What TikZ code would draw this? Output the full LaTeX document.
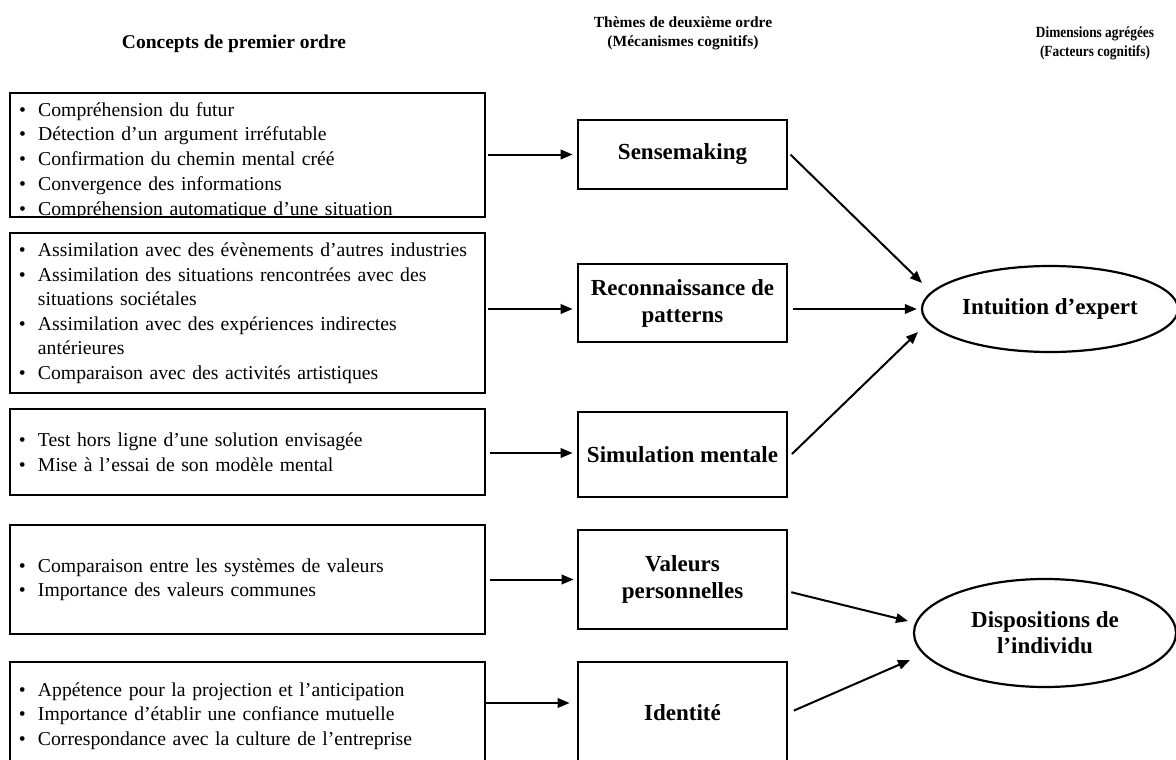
\documentclass[tikz,border=0pt]{standalone}
\usepackage{fontspec}
\setmainfont{Liberation Serif}
\usetikzlibrary{arrows.meta,shapes.geometric}

\newcommand{\puce}[1]{\makebox[19pt][l]{\textbullet}#1}
\newcommand{\suite}[1]{\hspace*{19pt}#1}

\tikzset{
  conceptbox/.style={draw, line width=1.1pt, minimum width=475pt, text width=457pt,
    inner xsep=9pt, align=left, font=\fontsize{19.7pt}{24.5pt}\selectfont},
  listtext/.style={inner sep=0pt, text width=457pt, align=left,
    font=\fontsize{19.7pt}{24.75pt}\selectfont},
  themebox/.style={draw, line width=2.7pt, minimum width=209pt, align=center,
    font=\bfseries\fontsize{23pt}{27pt}\selectfont},
  dimension/.style={ellipse, draw, line width=2.2pt, inner sep=0pt, align=center,
    font=\bfseries\fontsize{23pt}{26pt}\selectfont},
  heading/.style={align=center, font=\bfseries\fontsize{15.5pt}{19pt}\selectfont},
  arr/.style={line width=2pt, -{Triangle[length=12pt,width=9.5pt]}},
}

\begin{document}
\begin{tikzpicture}[x=1pt, y=-1pt]
		\useasboundingbox (0,0) rectangle (1176,760);
		\clip (0,0) rectangle (1176,760);
		
		%%%%% titres %%%%%
		\node[heading, font=\bfseries\fontsize{19.5pt}{23pt}\selectfont] (h1) at (234,44) {Concepts de premier ordre};
		\node[heading] (h2) at (683,33) {Thèmes de deuxième ordre\\(Mécanismes cognitifs)};
		\node[heading] (h3) at (1095,43) {\scalebox{0.86}[1]{\begin{tabular}{@{}c@{}}Dimensions agrégées\\(Facteurs cognitifs)\end{tabular}}};
		
		%%%%% concepts de premier ordre %%%%%
		\node[conceptbox, minimum height=124pt] (c1) at (247.5,155) {};
		\begin{scope}
			\clip (c1.north west) rectangle (c1.south east);
			\node[listtext, anchor=north west] (c1txt) at (19,102) {%
				\puce{Compréhension du futur}\\
				\puce{Détection d’un argument irréfutable}\\
				\puce{Confirmation du chemin mental créé}\\
				\puce{Convergence des informations}\\
				\puce{Compréhension automatique d’une situation}};
		\end{scope}
		
		\node[conceptbox, minimum height=160pt] (c2) at (247.5,313) {%
			\puce{Assimilation avec des évènements d’autres industries}\\
			\puce{Assimilation des situations rencontrées avec des}\\
			\suite{situations sociétales}\\
			\puce{Assimilation avec des expériences indirectes}\\
			\suite{antérieures}\\
			\puce{Comparaison avec des activités artistiques}};
		
		\node[conceptbox, minimum height=86pt] (c3) at (247.5,452) {%
			\puce{Test hors ligne d’une solution envisagée}\\
			\puce{Mise à l’essai de son modèle mental}};
		
		\node[conceptbox, minimum height=109pt] (c4) at (247.5,579.5) {%
			\puce{Comparaison entre les systèmes de valeurs}\\
			\puce{Importance des valeurs communes}};
		
		\node[conceptbox, minimum height=108pt] (c5) at (247.5,716) {%
			\puce{Appétence pour la projection et l’anticipation}\\
			\puce{Importance d’établir une confiance mutuelle}\\
			\puce{Correspondance avec la culture de l’entreprise}};
		
		%%%%% themes de deuxieme ordre %%%%%
		\node[themebox, minimum height=69pt] (sense) at (682.5,154.5) {Sensemaking};
		\node[themebox, minimum height=78pt] (reco) at (682.5,303) {Reconnaissance de\\patterns};
		\node[themebox, minimum height=85pt] (simu) at (682.5,454.5) {Simulation mentale};
		\node[themebox, minimum height=99pt] (val) at (682.5,579.5) {Valeurs\\personnelles};
		\node[themebox, minimum height=102pt] (ident) at (682.5,713) {Identité};
		
		%%%%% dimensions agregees %%%%%
		\node[dimension, minimum width=256pt, minimum height=86pt] (intu) at (1050,309) {Intuition d’expert};
		\node[dimension, minimum width=262pt, minimum height=108pt] (disp) at (1045,633) {Dispositions de\\l’individu};
		
		\coordinate (intuA) at (922,283);
		\coordinate (intuC) at (918,332);
		\coordinate (dispA) at (908,621);
		\coordinate (dispB) at (910,660);
		
		%%%%% fleches %%%%%
		\draw[arr, shorten <=2pt, shorten >=4pt] (sense.west -| c1.east) -- (sense.west);
		\draw[arr, shorten <=2pt, shorten >=4pt] ([yshift=-6pt]reco.west -| c2.east) -- ([yshift=-6pt]reco.west);
		\draw[arr, shorten <=4pt, shorten >=4pt] ([yshift=1.5pt]simu.west -| c3.east) -- ([yshift=1.5pt]simu.west);
		\draw[arr, shorten <=4pt, shorten >=3pt] (val.west -| c4.east) -- (val.west);
		\draw[arr, shorten <=0pt, shorten >=7pt] ([yshift=10pt]ident.west -| c5.east) -- ([yshift=10pt]ident.west);
		
		\draw[arr, shorten <=3pt] ([yshift=2pt]sense.east) -- (intuA);
		\draw[arr, shorten <=5pt, shorten >=4pt] ([yshift=-6pt]reco.east) -- (intu.west);
		\draw[arr, shorten <=5pt] ([yshift=-3pt]simu.east) -- (intuC);
		\draw[arr, shorten <=3pt] ([yshift=-12pt]val.east) -- (dispA);
		\draw[arr, shorten <=6pt] (ident.east) -- (dispB);
		
	\end{tikzpicture}
\end{document}
